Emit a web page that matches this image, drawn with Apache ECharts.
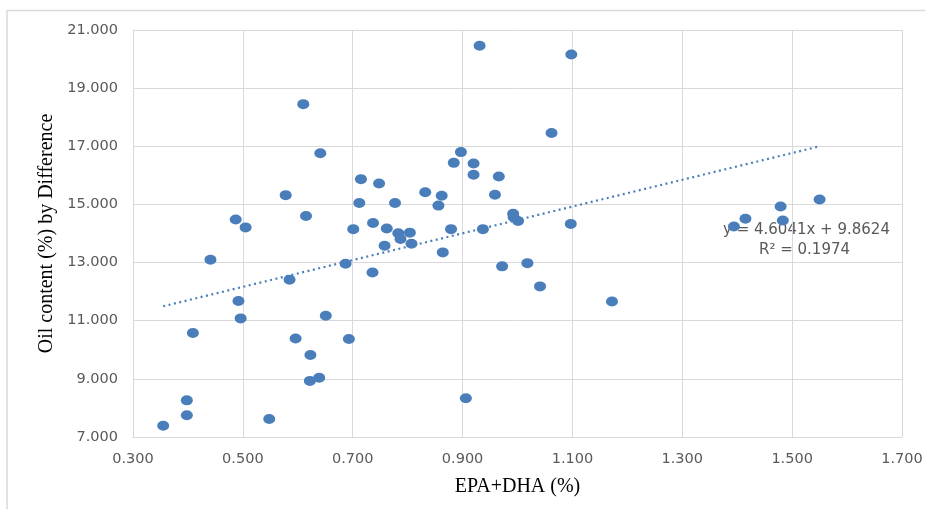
<!DOCTYPE html>
<html>
<head>
<meta charset="utf-8">
<script src="https://cdn.jsdelivr.net/npm/echarts@6/dist/echarts.min.js"></script>
<style>
  html, body { margin: 0; padding: 0; background: #fff; }
  #chart { width: 934px; height: 509px; }
</style>
</head>
<body>
<div id="chart"></div>
<script>
// EPA+DHA (%) for each sample
const epaDha = [
  0.355, 0.398, 0.398, 0.409, 0.441, 0.492, 0.496, 0.487, 0.505, 0.578,
  0.615, 0.610, 0.641, 0.585, 0.596, 0.623, 0.622, 0.639, 0.548, 0.651,
  0.693, 0.687, 0.736, 0.864, 0.906, 0.972, 1.018, 1.041, 1.172, 0.931,
  1.098, 1.062, 0.897, 0.884, 0.920, 0.920, 0.966, 0.959, 0.715, 0.748,
  0.712, 0.777, 0.832, 0.862, 0.856, 0.992, 0.993, 1.001, 1.097, 0.701,
  0.737, 0.762, 0.783, 0.787, 0.804, 0.758, 0.807, 0.879, 0.937, 1.550,
  1.479, 1.483, 1.415, 1.394
]
// Oil content (%) by difference, same order
const oilContent = [
  7.39, 7.75, 8.26, 10.58, 13.10, 11.68, 11.08, 14.48, 14.21, 15.32,
  14.60, 18.45, 16.76, 12.41, 10.39, 9.82, 8.93, 9.04, 7.62, 11.17,
  10.37, 12.96, 12.66, 13.35, 8.33, 12.87, 12.98, 12.18, 11.66, 20.46,
  20.16, 17.46, 16.80, 16.43, 16.41, 16.02, 15.96, 15.33, 15.87, 15.72,
  15.05, 15.05, 15.42, 15.30, 14.96, 14.68, 14.56, 14.43, 14.33, 14.15,
  14.36, 14.17, 14.01, 13.81, 14.03, 13.58, 13.65, 14.15, 14.15, 15.17,
  14.93, 14.45, 14.51, 14.24
]
// linear trendline reported on the chart
const trendSlope = 4.6041
const trendIntercept = 9.8624
const trendR2 = 0.1974
const xTicks = { min: 0.3, max: 1.7, interval: 0.2 }
const yTicks = { min: 7, max: 21, interval: 2 }

const points = epaDha.map((x, i) => [x, oilContent[i]])
const xLo = Math.min(...epaDha)
const xHi = Math.max(...epaDha)
const trend = [
  [xLo, trendSlope * xLo + trendIntercept],
  [xHi, trendSlope * xHi + trendIntercept]
]

const blue = '#4a7ebb'
const grey = '#595959'
const gridGrey = '#d9d9d9'

const chart = echarts.init(document.getElementById('chart'))
chart.setOption({
  animation: false,
  graphic: [
    { type: 'line', shape: { x1: 7, y1: 10.5, x2: 925, y2: 10.5 }, style: { stroke: gridGrey, lineWidth: 1.5 } },
    { type: 'line', shape: { x1: 7, y1: 10, x2: 7, y2: 509 }, style: { stroke: gridGrey, lineWidth: 1.5 } },
    {
      type: 'text', left: 723, top: 223,
      style: { text: 'y = ' + trendSlope + 'x + ' + trendIntercept, fill: grey, font: '15px "DejaVu Sans"' }
    },
    {
      type: 'text', left: 759, top: 243,
      style: { text: 'R² = ' + trendR2, fill: grey, font: '15px "DejaVu Sans"' }
    }
  ],
  grid: { left: 133, right: 32, top: 30, bottom: 72 },
  xAxis: {
    type: 'value',
    min: xTicks.min, max: xTicks.max, interval: xTicks.interval,
    name: 'EPA+DHA (%)',
    nameLocation: 'middle',
    nameGap: 40,
    nameTextStyle: { fontFamily: 'Liberation Serif', fontSize: 20, color: '#000' },
    axisLine: { show: true, lineStyle: { color: gridGrey } },
    axisTick: { show: false },
    axisLabel: { color: grey, fontFamily: 'DejaVu Sans', fontSize: 14.5, margin: 15, formatter: v => v.toFixed(3) },
    splitLine: { show: true, lineStyle: { color: gridGrey, width: 1 } }
  },
  yAxis: {
    type: 'value',
    min: yTicks.min, max: yTicks.max, interval: yTicks.interval,
    name: 'Oil content (%) by Difference',
    nameLocation: 'middle',
    nameGap: 75,
    nameTextStyle: { fontFamily: 'Liberation Serif', fontSize: 20, color: '#000' },
    axisLine: { show: true, lineStyle: { color: gridGrey } },
    axisTick: { show: false },
    axisLabel: { color: grey, fontFamily: 'DejaVu Sans', fontSize: 14.5, margin: 15, formatter: v => v.toFixed(3) },
    splitLine: { show: true, lineStyle: { color: gridGrey, width: 1 } }
  },
  series: [
    {
      type: 'line',
      data: trend,
      showSymbol: false,
      lineStyle: { color: blue, width: 2.2, type: [2, 3.5] },
      z: 3
    },
    {
      type: 'scatter',
      data: points,
      symbol: 'circle',
      symbolSize: [12, 10],
      itemStyle: { color: blue, opacity: 1 },
      z: 2
    }
  ]
})
</script>
</body>
</html>
